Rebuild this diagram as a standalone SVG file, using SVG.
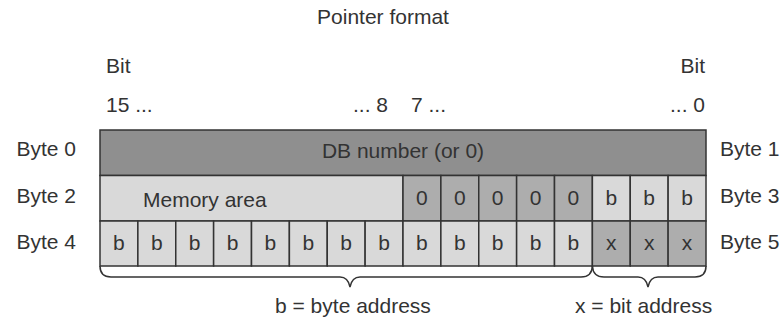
<svg xmlns="http://www.w3.org/2000/svg" width="784" height="321" viewBox="0 0 784 321">
<style>
text{font-family:"Liberation Sans",Arial,sans-serif;font-size:21px;fill:#333}
.c{text-anchor:middle}
.e{text-anchor:end}
.dark{fill:#8f8f8f;stroke:#333;stroke-width:1.5}
.mid{fill:#adadad;stroke:#333;stroke-width:1.5}
.light{fill:#d9d9d9;stroke:#333;stroke-width:1.5}
.brace{fill:none;stroke:#333;stroke-width:1.5}
</style>
<rect width="784" height="321" fill="#fff"/>
<g id="title"><text class="c" x="383" y="24">Pointer format</text></g>
<g id="bit-labels">
<text x="106" y="73">Bit</text>
<text x="106" y="112">15 ...</text>
<text class="e" x="388" y="112">... 8</text>
<text x="411" y="112">7 ...</text>
<text class="e" x="705" y="73">Bit</text>
<text class="e" x="705" y="112">... 0</text>
</g>
<g id="byte-labels">
<text class="e" x="76" y="156">Byte 0</text>
<text class="e" x="76" y="203">Byte 2</text>
<text class="e" x="76" y="249">Byte 4</text>
<text x="720" y="156">Byte 1</text>
<text x="720" y="203">Byte 3</text>
<text x="720" y="249">Byte 5</text>
</g>
<g id="row-byte0-1">
<rect class="dark" x="100" y="130" width="606" height="45.5"/>
<text class="c" x="403" y="158">DB number (or 0)</text>
</g>
<g id="row-byte2-3">
<rect class="light" x="100" y="175.5" width="303" height="45.5"/>
<text x="143" y="207">Memory area</text>
<rect class="mid" x="403" y="175.5" width="37.875" height="45.5"/>
<rect class="mid" x="440.875" y="175.5" width="37.875" height="45.5"/>
<rect class="mid" x="478.75" y="175.5" width="37.875" height="45.5"/>
<rect class="mid" x="516.625" y="175.5" width="37.875" height="45.5"/>
<rect class="mid" x="554.5" y="175.5" width="37.875" height="45.5"/>
<rect class="light" x="592.375" y="175.5" width="37.875" height="45.5"/>
<rect class="light" x="630.25" y="175.5" width="37.875" height="45.5"/>
<rect class="light" x="668.125" y="175.5" width="37.875" height="45.5"/>
<text class="c" x="421.94" y="205">0</text>
<text class="c" x="459.81" y="205">0</text>
<text class="c" x="497.69" y="205">0</text>
<text class="c" x="535.56" y="205">0</text>
<text class="c" x="573.44" y="205">0</text>
<text class="c" x="611.31" y="205">b</text>
<text class="c" x="649.19" y="205">b</text>
<text class="c" x="687.06" y="205">b</text>
</g>
<g id="row-byte4-5">
<rect class="light" x="100" y="221" width="37.875" height="45"/>
<rect class="light" x="137.875" y="221" width="37.875" height="45"/>
<rect class="light" x="175.75" y="221" width="37.875" height="45"/>
<rect class="light" x="213.625" y="221" width="37.875" height="45"/>
<rect class="light" x="251.5" y="221" width="37.875" height="45"/>
<rect class="light" x="289.375" y="221" width="37.875" height="45"/>
<rect class="light" x="327.25" y="221" width="37.875" height="45"/>
<rect class="light" x="365.125" y="221" width="37.875" height="45"/>
<rect class="light" x="403" y="221" width="37.875" height="45"/>
<rect class="light" x="440.875" y="221" width="37.875" height="45"/>
<rect class="light" x="478.75" y="221" width="37.875" height="45"/>
<rect class="light" x="516.625" y="221" width="37.875" height="45"/>
<rect class="light" x="554.5" y="221" width="37.875" height="45"/>
<rect class="mid" x="592.375" y="221" width="37.875" height="45"/>
<rect class="mid" x="630.25" y="221" width="37.875" height="45"/>
<rect class="mid" x="668.125" y="221" width="37.875" height="45"/>
<text class="c" x="118.94" y="250">b</text>
<text class="c" x="156.81" y="250">b</text>
<text class="c" x="194.69" y="250">b</text>
<text class="c" x="232.56" y="250">b</text>
<text class="c" x="270.44" y="250">b</text>
<text class="c" x="308.31" y="250">b</text>
<text class="c" x="346.19" y="250">b</text>
<text class="c" x="384.06" y="250">b</text>
<text class="c" x="421.94" y="250">b</text>
<text class="c" x="459.81" y="250">b</text>
<text class="c" x="497.69" y="250">b</text>
<text class="c" x="535.56" y="250">b</text>
<text class="c" x="573.44" y="250">b</text>
<text class="c" x="611.31" y="250">x</text>
<text class="c" x="649.19" y="250">x</text>
<text class="c" x="687.06" y="250">x</text>
</g>
<g id="braces">
<path class="brace" d="M100,266 Q100,277 111,277 L340,277 Q348,277 350,287 Q352,277 360,277 L581,277 Q592,277 592.4,266"/>
<path class="brace" d="M592.4,266 Q593,277 604,277 L638,277 Q646,277 648,287 Q650,277 658,277 L695,277 Q706,277 706,266"/>
</g>
<g id="brace-labels">
<text x="275" y="313">b = byte address</text>
<text x="575" y="313">x = bit address</text>
</g>
</svg>
